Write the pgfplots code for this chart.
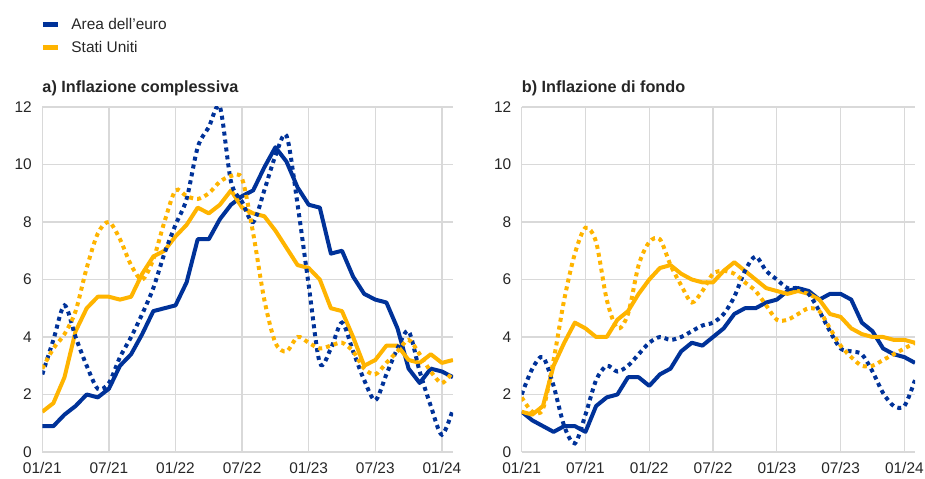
\documentclass[border=0pt]{standalone}
\usepackage{fontspec}
\setmainfont{Liberation Sans}
\usepackage{pgfplots}
\usepackage{pgfplotstable}
\pgfplotsset{compat=1.18}
\definecolor{ecbblue}{HTML}{003299}
\definecolor{ecbyellow}{HTML}{FFB400}
\definecolor{gridgray}{HTML}{D9D9D9}
\definecolor{txt}{HTML}{262626}

\pgfplotstableread{
x ea us ead usd
0 0.9 1.4 2.7 2.9
1 0.9 1.7 3.9 3.6
2 1.3 2.6 5.1 4.1
3 1.6 4.2 4.0 4.9
4 2.0 5.0 3.0 6.4
5 1.9 5.4 2.2 7.6
6 2.2 5.4 2.4 8.0
7 3.0 5.3 3.3 7.4
8 3.4 5.4 4.0 6.5
9 4.1 6.2 4.8 6.0
10 4.9 6.8 5.7 6.7
11 5.0 7.0 6.9 8.0
12 5.1 7.5 7.9 9.1
13 5.9 7.9 8.8 8.9
14 7.4 8.5 10.6 8.8
15 7.4 8.3 11.3 9.0
16 8.1 8.6 12.0 9.4
17 8.6 9.1 9.4 9.6
18 8.9 8.5 8.7 9.5
19 9.1 8.3 8.0 7.6
20 9.9 8.2 9.1 5.3
21 10.6 7.7 10.3 3.8
22 10.1 7.1 11.0 3.5
23 9.2 6.5 8.6 4.0
24 8.6 6.4 5.8 3.8
25 8.5 6.0 3.1 3.6
26 6.9 5.0 3.6 3.7
27 7.0 4.9 4.5 3.8
28 6.1 4.0 3.5 3.5
29 5.5 3.0 2.5 2.9
30 5.3 3.2 1.8 2.7
31 5.2 3.7 2.7 3.1
32 4.3 3.7 3.6 3.5
33 2.9 3.2 4.2 3.9
34 2.4 3.1 2.8 3.4
35 2.9 3.4 1.6 2.8
36 2.8 3.1 0.6 2.4
37 2.6 3.2 1.5 2.8
}\tabA

\pgfplotstableread{
x ea us ead usd
0 1.4 1.4 2.0 1.9
1 1.1 1.3 2.9 1.4
2 0.9 1.6 3.3 1.5
3 0.7 3.0 2.3 3.2
4 0.9 3.8 0.9 5.3
5 0.9 4.5 0.3 6.9
6 0.7 4.3 1.3 7.8
7 1.6 4.0 2.5 7.3
8 1.9 4.0 3.0 5.3
9 2.0 4.6 2.8 4.3
10 2.6 4.9 3.0 4.8
11 2.6 5.5 3.4 6.5
12 2.3 6.0 3.8 7.3
13 2.7 6.4 4.0 7.4
14 2.9 6.5 3.9 6.5
15 3.5 6.2 4.0 5.8
16 3.8 6.0 4.2 5.2
17 3.7 5.9 4.4 5.6
18 4.0 5.9 4.5 6.2
19 4.3 6.3 4.8 6.3
20 4.8 6.6 5.4 6.2
21 5.0 6.3 6.3 5.9
22 5.0 6.0 6.8 5.6
23 5.2 5.7 6.3 5.1
24 5.3 5.6 6.0 4.6
25 5.6 5.5 5.7 4.6
26 5.7 5.6 5.7 4.8
27 5.6 5.5 5.5 5.0
28 5.3 5.3 4.9 4.9
29 5.5 4.8 4.2 4.3
30 5.5 4.7 3.6 3.7
31 5.3 4.3 3.5 3.3
32 4.5 4.1 3.4 3.0
33 4.2 4.0 2.8 3.0
34 3.6 4.0 2.05 3.2
35 3.4 3.9 1.6 3.4
36 3.3 3.9 1.6 3.6
37 3.1 3.8 2.5 3.8
}\tabB

\pgfplotsset{
 panel/.style={
  scale only axis, height=345bp,
  xmin=0, xmax=37, ymin=0, ymax=12,
  xtick={0,6,...,36},
  xticklabels={01/21,07/21,01/22,07/22,01/23,07/23,01/24},
  ytick={0,2,...,12},
  axis line style={draw=none},
  major tick length=0pt,
  grid=major,
  major grid style={gridgray, line width=1.3bp},
  tick label style={font=\fontsize{15.5}{18}\selectfont, text=txt},
  /pgf/number format/assume math mode=true,
  yticklabel style={xshift=-7bp},
  xticklabel style={yshift=-7bp},
  title style={at={(axis description cs:0,1.026)}, anchor=base west, yshift=0pt,
    font=\bfseries\fontsize{16.3}{19}\selectfont, text=txt, inner sep=0pt},
 },
 solidline/.style={line width=4bp, line join=round, forget plot},
 dotline/.style={line width=4bp, dash pattern=on 4bp off 4bp, smooth, forget plot},
}

\begin{document}
\begin{tikzpicture}
\path[use as bounding box] (0,0) rectangle (925bp,479bp);

\begin{axis}[panel,
  at={(42.3bp,27bp)}, anchor=south west, width=410.7bp,
  title={a) Inflazione complessiva},
  legend style={at={(axis description cs:-0.005,1.2634)}, anchor=north west,
    draw=none, fill=none, font=\fontsize{15.5}{18}\selectfont, text=txt,
    row sep=6bp, column sep=9bp, inner sep=0pt, cells={anchor=west}},
  legend image code/.code={\draw[line width=5bp] (0bp,0bp) -- (15bp,0bp);},
]
\addlegendimage{ecbblue}
\addlegendentry{Area dell’euro}
\addlegendimage{ecbyellow}
\addlegendentry{Stati Uniti}
\addplot[solidline, ecbblue] table[x=x, y=ea] {\tabA};
\addplot[solidline, ecbyellow] table[x=x, y=us] {\tabA};
\addplot[dotline, ecbblue] table[x=x, y=ead] {\tabA};
\addplot[dotline, ecbyellow] table[x=x, y=usd] {\tabA};
\end{axis}

\begin{axis}[panel,
  at={(521.7bp,27bp)}, anchor=south west, width=393.3bp,
  title={b) Inflazione di fondo},
]
\addplot[solidline, ecbblue] table[x=x, y=ea] {\tabB};
\addplot[solidline, ecbyellow] table[x=x, y=us] {\tabB};
\addplot[dotline, ecbblue] table[x=x, y=ead] {\tabB};
\addplot[dotline, ecbyellow] table[x=x, y=usd] {\tabB};
\end{axis}
\end{tikzpicture}
\end{document}
